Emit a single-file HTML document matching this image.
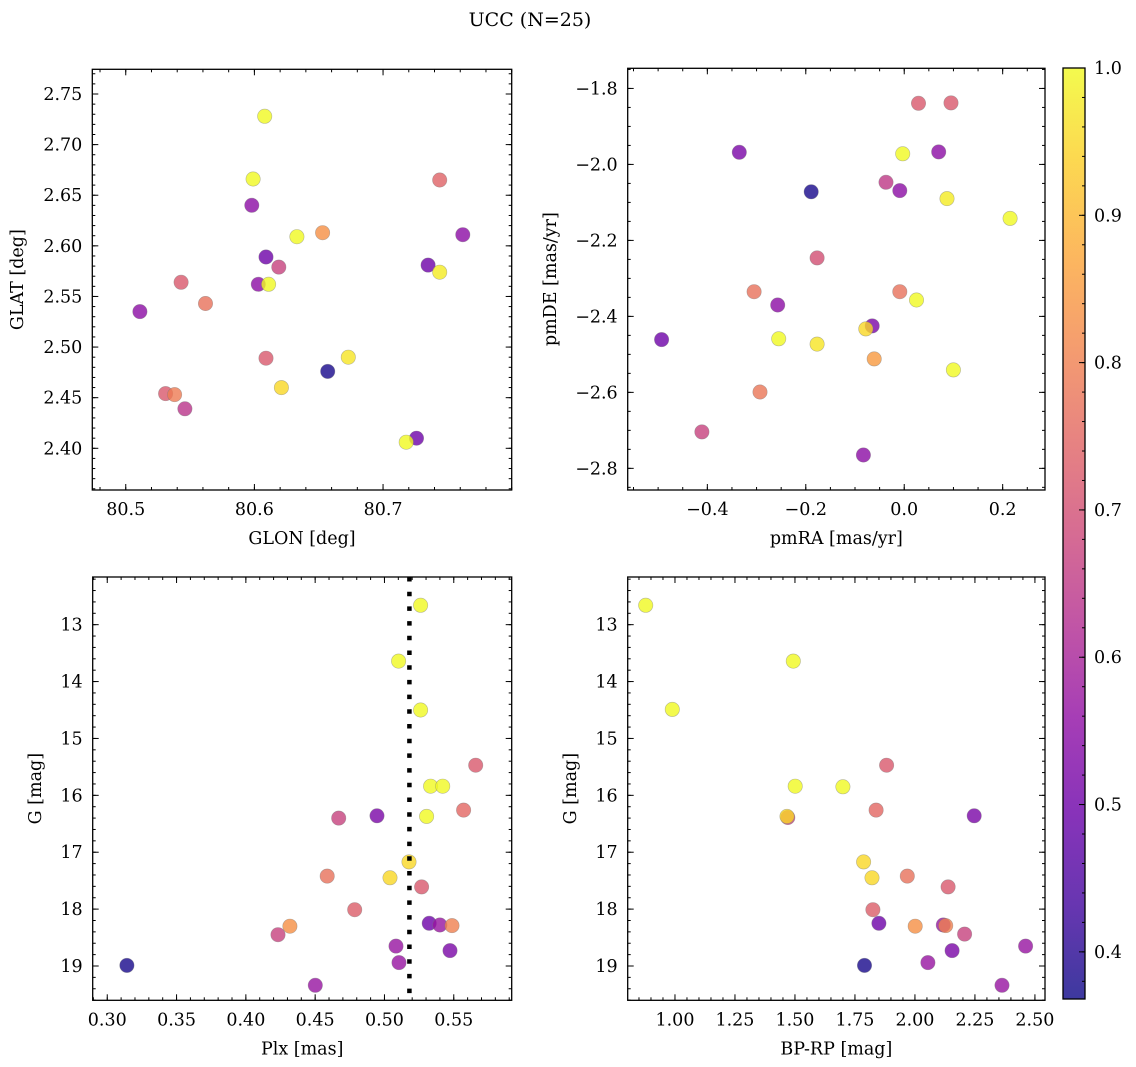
<!DOCTYPE html>
<html><head><meta charset="utf-8">
<style>
html,body{margin:0;padding:0;background:#fff;}
svg{display:block;font-family:"DejaVu Serif","Liberation Serif",serif;}
</style></head>
<body>
<svg id="fig" width="1136" height="1067" xmlns="http://www.w3.org/2000/svg">
<defs>
<linearGradient id="plasma" x1="0" y1="1" x2="0" y2="0">
<stop offset="0" stop-color="#0d0887"/><stop offset="0.1" stop-color="#41049d"/><stop offset="0.2" stop-color="#6a00a8"/><stop offset="0.3" stop-color="#8f0da4"/><stop offset="0.4" stop-color="#b12a90"/><stop offset="0.5" stop-color="#cc4778"/><stop offset="0.6" stop-color="#e16462"/><stop offset="0.7" stop-color="#f2844b"/><stop offset="0.8" stop-color="#fca636"/><stop offset="0.9" stop-color="#fcce25"/><stop offset="1" stop-color="#f0f921"/>
</linearGradient>
</defs>
<text x="530" y="26" font-size="19" text-anchor="middle">UCC (N=25)</text>
</svg>
<script>
// ---- data ----
const glon = [80.608,80.599,80.598,80.633,80.653,80.744,80.762,80.609,80.619,80.603,80.611,80.735,80.744,80.543,80.562,80.511,80.609,80.673,80.657,80.621,80.531,80.538,80.546,80.726,80.718];
const glat = [2.728,2.666,2.640,2.609,2.613,2.665,2.611,2.589,2.579,2.562,2.562,2.581,2.574,2.564,2.543,2.535,2.489,2.490,2.476,2.460,2.454,2.453,2.439,2.410,2.406];
const probA = [1.0,1.0,0.55,1.0,0.83,0.74,0.55,0.50,0.67,0.55,1.0,0.50,0.98,0.72,0.77,0.55,0.72,0.97,0.38,0.95,0.72,0.79,0.64,0.50,1.0];

const pmra = [0.029,0.095,-0.335,-0.003,0.070,-0.037,-0.189,-0.009,0.087,0.215,-0.177,-0.305,-0.009,-0.257,0.025,-0.065,-0.078,-0.493,-0.255,-0.177,-0.061,0.100,-0.293,-0.411,-0.083];
const pmde = [-1.839,-1.838,-1.968,-1.972,-1.967,-2.047,-2.072,-2.069,-2.090,-2.142,-2.246,-2.335,-2.335,-2.370,-2.357,-2.425,-2.433,-2.461,-2.459,-2.473,-2.512,-2.541,-2.599,-2.704,-2.765];
const probB = [0.72,0.72,0.52,1.0,0.55,0.65,0.38,0.55,0.98,1.0,0.70,0.77,0.77,0.55,1.0,0.52,0.95,0.50,1.0,0.97,0.85,1.0,0.78,0.67,0.55];

const plx = [0.5261,0.5102,0.5261,0.5658,0.5333,0.5420,0.4670,0.4946,0.5304,0.5571,0.5177,0.4587,0.5040,0.5268,0.4785,0.4318,0.4232,0.5323,0.5400,0.5487,0.5083,0.5473,0.5105,0.3142,0.4501];
const gmagC = [12.66,13.64,14.50,15.47,15.84,15.84,16.40,16.36,16.37,16.26,17.17,17.42,17.45,17.61,18.01,18.30,18.45,18.25,18.28,18.29,18.65,18.73,18.94,18.99,19.34];
const probC = [1.0,1.0,1.0,0.72,1.0,1.0,0.67,0.52,1.0,0.75,0.95,0.77,0.95,0.72,0.73,0.83,0.67,0.50,0.57,0.80,0.57,0.52,0.57,0.38,0.57];
const plxLine = [0.518];

const bprp = [0.878,1.493,0.989,1.882,1.501,1.700,1.470,1.467,1.838,2.247,1.786,1.821,1.968,2.138,1.825,1.850,2.001,2.118,2.128,2.207,2.461,2.155,2.054,1.790,2.363];
const gmagD = [12.66,13.64,14.49,15.47,15.84,15.85,16.39,16.37,16.26,16.36,17.17,17.45,17.42,17.61,18.01,18.25,18.30,18.28,18.29,18.44,18.65,18.73,18.94,18.99,19.34];
const probD = [1.0,1.0,1.0,0.72,1.0,1.0,0.67,0.95,0.75,0.52,0.95,0.95,0.77,0.72,0.73,0.50,0.83,0.57,0.80,0.67,0.57,0.52,0.57,0.38,0.57];

const xTicksA = [80.5,80.6,80.7], xTickLabelsA = ["80.5","80.6","80.7"];
const yTicksA = [2.40,2.45,2.50,2.55,2.60,2.65,2.70,2.75];
const xTicksB = [-0.4,-0.2,0.0,0.2];
const yTicksB = [-2.8,-2.6,-2.4,-2.2,-2.0,-1.8];
const xTicksC = [0.30,0.35,0.40,0.45,0.50,0.55];
const yTicksG = [13,14,15,16,17,18,19];
const xTicksD = [1.00,1.25,1.50,1.75,2.00,2.25,2.50];
const cbTicks = [0.4,0.5,0.6,0.7,0.8,0.9,1.0];
const vmin = 0.368, vmax = 1.0;

// ---- helpers ----
const NS = "http://www.w3.org/2000/svg";
const svg = document.getElementById('fig');
const FS = 17.5;
function mk(tag, attrs, parent){const e=document.createElementNS(NS,tag);for(const k in attrs)e.setAttribute(k,attrs[k]);(parent||svg).appendChild(e);return e;}
const stops=[[0,[13,8,135]],[0.1,[65,4,157]],[0.2,[106,0,168]],[0.3,[143,13,164]],[0.4,[177,42,144]],[0.5,[204,71,120]],[0.6,[225,100,98]],[0.7,[242,132,75]],[0.8,[252,166,54]],[0.9,[252,206,37]],[1.0,[240,249,33]]];
function plasma(v){let t=(v-vmin)/(vmax-vmin);t=Math.max(0,Math.min(1,t));for(let i=0;i<stops.length-1;i++){const a=stops[i],b=stops[i+1];if(t<=b[0]){const f=(t-a[0])/(b[0]-a[0]);const c=a[1].map((x,j)=>Math.round(x+(b[1][j]-x)*f));return `rgb(${c[0]},${c[1]},${c[2]})`;}}return 'rgb(240,249,33)';}
function fmt(v,d){const s=Math.abs(v).toFixed(d);return (v<-1e-9?'\u2212':'')+s;}

function panel(cfg){
  const g=mk('g',{});
  
  
  const {L,R,T,B,xlim,ylim}=cfg;
  const sx=v=>L+(v-xlim[0])/(xlim[1]-xlim[0])*(R-L);
  const sy=v=>B-(v-ylim[0])/(ylim[1]-ylim[0])*(B-T);
  const pg=mk('g',{},g);
  
  
  for(let i=0;i<cfg.xs.length;i++){
    const c=mk('circle',{cx:sx(cfg.xs[i]).toFixed(1),cy:sy(cfg.ys[i]).toFixed(1),r:7.2,fill:plasma(cfg.cs[i]),'fill-opacity':0.8,stroke:'#777','stroke-opacity':0.5,'stroke-width':0.6},pg);
    
    
  }
  if(cfg.vline){for(const v of cfg.vline){const l=mk('line',{x1:sx(v),x2:sx(v),y1:T,y2:B,stroke:'#000','stroke-width':4.5,'stroke-dasharray':'4.5 10.2'},g);
    
    }}
  const fr=mk('rect',{x:L,y:T,width:R-L,height:B-T,fill:'none',stroke:'#000','stroke-width':1.3},g);
  
  
  const tk={stroke:'#000','stroke-width':1};
  const eps=1e-9;
  for(let v=Math.ceil(xlim[0]/cfg.xminor)*cfg.xminor; v<=xlim[1]+eps; v+=cfg.xminor){const x=sx(v);mk('line',Object.assign({x1:x,x2:x,y1:B,y2:B-3},tk),g);mk('line',Object.assign({x1:x,x2:x,y1:T,y2:T+3},tk),g);}
  const y0=Math.min(ylim[0],ylim[1]),y1=Math.max(ylim[0],ylim[1]);
  for(let v=Math.ceil(y0/cfg.yminor)*cfg.yminor; v<=y1+eps; v+=cfg.yminor){const y=sy(v);mk('line',Object.assign({x1:L,x2:L+3,y1:y,y2:y},tk),g);mk('line',Object.assign({x1:R,x2:R-3,y1:y,y2:y},tk),g);}
  cfg.xticks.forEach((v,i)=>{const x=sx(v);mk('line',Object.assign({x1:x,x2:x,y1:B,y2:B-6},tk),g);mk('line',Object.assign({x1:x,x2:x,y1:T,y2:T+6},tk),g);
    const t=mk('text',{x:x,y:B+25,'font-size':FS,'text-anchor':'middle'},g);t.textContent=cfg.xlabels?cfg.xlabels[i]:fmt(v,cfg.xdec);
    
    });
  cfg.yticks.forEach(v=>{const y=sy(v);mk('line',Object.assign({x1:L,x2:L+6,y1:y,y2:y},tk),g);mk('line',Object.assign({x1:R,x2:R-6,y1:y,y2:y},tk),g);
    const t=mk('text',{x:L-10,y:y+6,'font-size':FS,'text-anchor':'end'},g);t.textContent=fmt(v,cfg.ydec);
    
    });
  const xl=mk('text',{x:(L+R)/2,y:B+54,'font-size':FS,'text-anchor':'middle'},g);xl.textContent=cfg.xtitle;
  
  
  const yl=mk('text',{x:0,y:0,'font-size':FS,'text-anchor':'middle',transform:`translate(${cfg.ytx},${(T+B)/2}) rotate(-90)`},g);yl.textContent=cfg.ytitle;
  
  
}

panel({name:'glon-glat-panel',L:92.3,R:511.7,T:69.3,B:490,xlim:[80.474,80.800],ylim:[2.3588,2.7744],xs:glon,ys:glat,cs:probA,
  xticks:xTicksA,xlabels:xTickLabelsA,yticks:yTicksA,xdec:1,ydec:2,xminor:0.02,yminor:0.01,xtitle:'GLON [deg]',ytitle:'GLAT [deg]',ytx:23});
panel({name:'pm-panel',L:627.7,R:1045,T:68.3,B:490,xlim:[-0.5618,0.286],ylim:[-2.857,-1.747],xs:pmra,ys:pmde,cs:probB,
  xticks:xTicksB,yticks:yTicksB,xdec:1,ydec:1,xminor:0.05,yminor:0.05,xtitle:'pmRA [mas/yr]',ytitle:'pmDE [mas/yr]',ytx:556});
panel({name:'plx-g-panel',L:92.7,R:511.7,T:577,B:1000.3,xlim:[0.2895,0.5918],ylim:[19.603,12.162],xs:plx,ys:gmagC,cs:probC,vline:plxLine,
  xticks:xTicksC,yticks:yTicksG,xdec:2,ydec:0,xminor:0.01,yminor:0.2,xtitle:'Plx [mas]',ytitle:'G [mag]',ytx:41});
panel({name:'cmd-panel',L:627.7,R:1045,T:577,B:1000.3,xlim:[0.803,2.542],ylim:[19.603,12.162],xs:bprp,ys:gmagD,cs:probD,
  xticks:xTicksD,yticks:yTicksG,xdec:2,ydec:0,xminor:0.05,yminor:0.2,xtitle:'BP-RP [mag]',ytitle:'G [mag]',ytx:576});

(function(){
  const L=1063,R=1085,T=68,B=999;
  const sy=v=>B-(v-vmin)/(vmax-vmin)*(B-T);
  const g=mk('g',{});
  
  
  mk('rect',{x:L,y:T,width:R-L,height:B-T,fill:'url(#plasma)','fill-opacity':0.8},g);
  mk('rect',{x:L,y:T,width:R-L,height:B-T,fill:'none',stroke:'#000','stroke-width':1.3},g);
  for(let v=0.38;v<=1.0001;v+=0.02){const y=sy(v);mk('line',{x1:R,x2:R-3,y1:y,y2:y,stroke:'#000','stroke-width':1},g);}
  cbTicks.forEach(v=>{const y=sy(v);mk('line',{x1:R,x2:R-6,y1:y,y2:y,stroke:'#000','stroke-width':1},g);
    const t=mk('text',{x:R+9,y:y+6,'font-size':FS},g);t.textContent=v.toFixed(1);
    
    });
})();
</script>
</body></html>
